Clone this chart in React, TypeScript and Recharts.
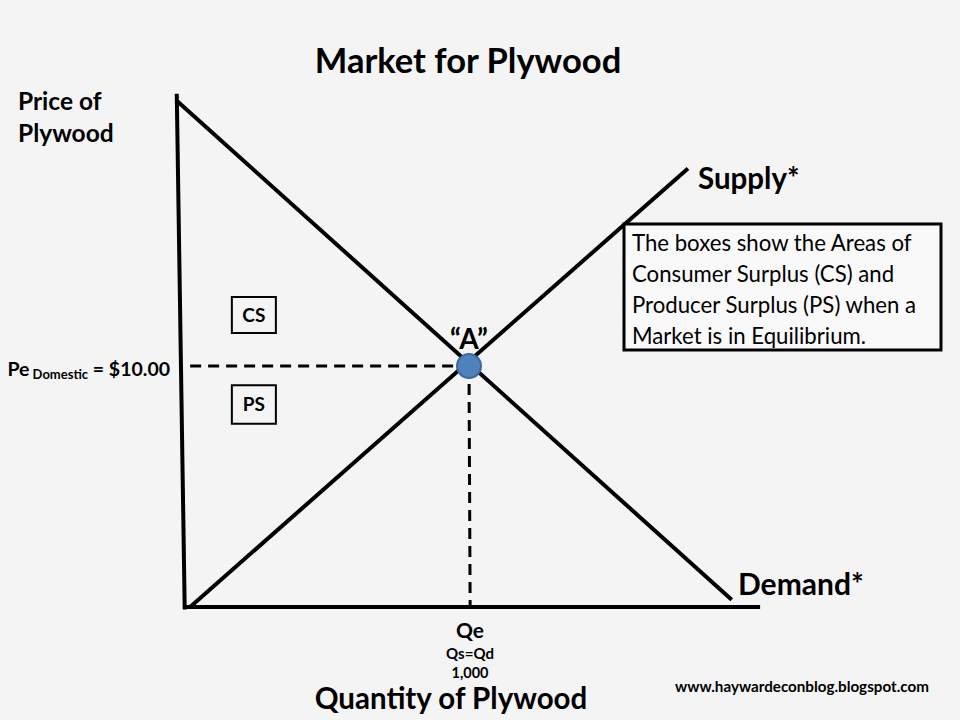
import React from "react";
import { LineChart, Line, XAxis, YAxis, ReferenceArea, ReferenceDot } from "recharts";

// Quantity (x) and price (y) points for each curve
const demandCurve = [
  { q: -28, p: 21.0 },
  { q: 1925, p: 0.3 },
];
const supplyCurve = [
  { q: 18, p: 0 },
  { q: 1771, p: 18.2 },
];
const priceAxisLine = [
  { q: -29, p: 21.3 },
  { q: -1, p: -0.1 },
];
const quantityAxisLine = [
  { q: -1, p: 0 },
  { q: 2025, p: 0 },
];
const priceDashed = [
  { q: 18, p: 10 },
  { q: 1000, p: 10 },
];
const quantityDashed = [
  { q: 1000, p: 10 },
  { q: 1004, p: 0 },
];
const equilibrium = { q: 1000, p: 10 };
const csBox = { q1: 165, q2: 320, p1: 11.37, p2: 12.86 };
const psBox = { q1: 165, q2: 320, p1: 7.6, p2: 9.2 };

const titleText = "Market for Plywood";
const yTitleLines = ["Price of", "Plywood"];
const xTitleText = "Quantity of Plywood";
const noteLines = [
  "The boxes show the Areas of",
  "Consumer Surplus (CS) and",
  "Producer Surplus (PS) when a",
  "Market is in Equilibrium.",
];

const FONT = "Lato, 'Open Sans', sans-serif";
const LINE_W = 4;

export default function App() {
  return (
    <div
      style={{
        position: "absolute",
        left: 0,
        top: 0,
        width: 960,
        height: 720,
        background: "#f4f4f4",
        overflow: "hidden",
        fontFamily: FONT,
      }}
    >
      <LineChart
        width={960}
        height={720}
        margin={{ left: 167.96, right: 189.96, top: 52.7, bottom: 64.8 }}
        style={{ position: "absolute", left: 0, top: 0 }}
      >
        <XAxis type="number" dataKey="q" domain={[-60, 2060]} hide allowDataOverflow />
        <YAxis type="number" dataKey="p" domain={[-2, 23]} hide allowDataOverflow />
        <ReferenceArea
          x1={csBox.q1}
          x2={csBox.q2}
          y1={csBox.p1}
          y2={csBox.p2}
          fill="none"
          stroke="#000"
          strokeWidth={2}
          fillOpacity={0}
          label={{ value: "CS", position: "center", fill: "#000", fontSize: 19, fontWeight: 700, fontFamily: FONT }}
        />
        <ReferenceArea
          x1={psBox.q1}
          x2={psBox.q2}
          y1={psBox.p1}
          y2={psBox.p2}
          fill="none"
          stroke="#000"
          strokeWidth={2}
          fillOpacity={0}
          label={{ value: "PS", position: "center", fill: "#000", fontSize: 19, fontWeight: 700, fontFamily: FONT }}
        />
        <Line data={priceAxisLine} dataKey="p" stroke="#000" strokeWidth={LINE_W} dot={false} isAnimationActive={false} />
        <Line data={quantityAxisLine} dataKey="p" stroke="#000" strokeWidth={LINE_W} dot={false} isAnimationActive={false} />
        <Line data={demandCurve} dataKey="p" stroke="#000" strokeWidth={LINE_W} dot={false} isAnimationActive={false} />
        <Line data={supplyCurve} dataKey="p" stroke="#000" strokeWidth={LINE_W} dot={false} isAnimationActive={false} />
        <Line data={priceDashed} dataKey="p" stroke="#000" strokeWidth={3} strokeDasharray="11 7" dot={false} isAnimationActive={false} />
        <Line data={quantityDashed} dataKey="p" stroke="#000" strokeWidth={3} strokeDasharray="11 7" dot={false} isAnimationActive={false} />
        <ReferenceDot
          x={equilibrium.q}
          y={equilibrium.p}
          r={12}
          fill="#4f81bd"
          stroke="#3b68a0"
          strokeWidth={2}
        />
      </LineChart>
      <svg
        width={960}
        height={720}
        style={{ position: "absolute", left: 0, top: 0, pointerEvents: "none" }}
        fontFamily={FONT}
      >
        <text x={468} y={73} textAnchor="middle" fontSize={34.5} fontWeight={700} fill="#000">
          {titleText}
        </text>
        <text x={18} y={110} fontSize={24.5} fontWeight={700} fill="#000">
          {yTitleLines[0]}
        </text>
        <text x={18} y={142} fontSize={24.5} fontWeight={700} fill="#000">
          {yTitleLines[1]}
        </text>
        <text x={170} y={376} textAnchor="end" fontWeight={700} fill="#000">
          <tspan fontSize={19.5}>Pe</tspan>
          <tspan fontSize={13} dy={3}> Domestic</tspan>
          <tspan fontSize={19.5} dy={-3}> = $10.00</tspan>
        </text>
        <text x={469} y={349} textAnchor="middle" fontSize={28} fontWeight={700} fill="#000">
          “A”
        </text>
        <text x={698} y={189} fontSize={29.5} fontWeight={700} fill="#000">
          Supply*
        </text>
        <text x={738} y={595} fontSize={30} fontWeight={700} fill="#000">
          Demand*
        </text>
        <rect x={624} y={224} width={317} height={126} fill="#f9f9f9" stroke="#000" strokeWidth={3} />
        {noteLines.map((line, i) => (
          <text key={i} x={632} y={251 + i * 31} fontSize={22.2} fill="#000">
            {line}
          </text>
        ))}
        <text x={470} y={638} textAnchor="middle" fontSize={21} fontWeight={700} fill="#000">
          Qe
        </text>
        <text x={470} y={659} textAnchor="middle" fontSize={15} fontWeight={700} fill="#000">
          Qs=Qd
        </text>
        <text x={470} y={678} textAnchor="middle" fontSize={14.5} fontWeight={700} fill="#000">
          1,000
        </text>
        <text x={451} y={709} textAnchor="middle" fontSize={29.5} fontWeight={700} fill="#000">
          {xTitleText}
        </text>
        <text x={675} y={692} fontSize={15.2} fontWeight={700} fill="#000">
          www.haywardeconblog.blogspot.com
        </text>
      </svg>
    </div>
  );
}
